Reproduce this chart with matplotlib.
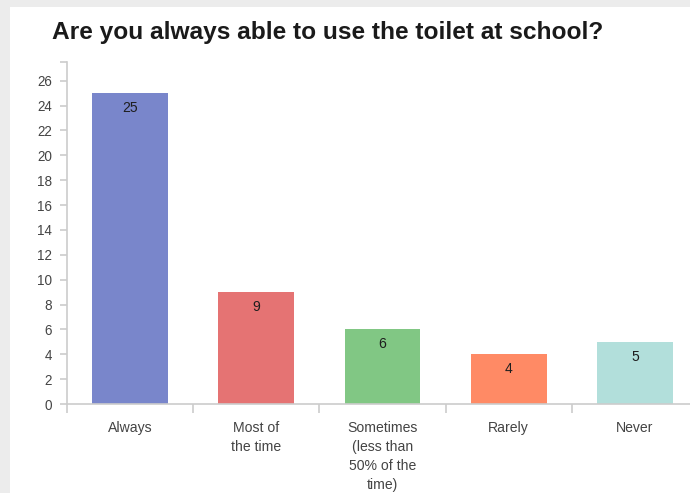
import numpy as np
import matplotlib
matplotlib.use("Agg")
import matplotlib.pyplot as plt
from matplotlib.patches import Rectangle

plt.rcParams['font.family'] = ['Liberation Sans', 'DejaVu Sans']

# survey answers
categories = ["Always", "Most of\nthe time", "Sometimes\n(less than\n50% of the\ntime)",
              "Rarely", "Never"]
counts = [25, 9, 6, 4, 5]
colors = ["#7986CB", "#E57373", "#81C784", "#FF8A65", "#B2DFDB"]
yticks = list(range(0, 27, 2))

W, H, DPI = 690, 493, 100
PX = 72.0 / DPI  # points per pixel

fig = plt.figure(figsize=(W / DPI, H / DPI), dpi=DPI, facecolor="#ececec")

# white card with a thin grey frame on top/left
fig.patches.append(Rectangle((10 / W, 0), 1, (H - 7) / H, transform=fig.transFigure,
                             facecolor="white", edgecolor="none", zorder=-5))

fig.text(52 / W, 1 - 33 / H, "Are you always able to use the toilet at school?",
         fontsize=24.5 * PX, fontweight="bold", color="#1a1a1a", va="center", ha="left")

x0, x1 = 67, 698
y0, y1 = 404, 62
ax = fig.add_axes([x0 / W, (H - y0) / H, (x1 - x0) / W, (y0 - y1) / H])
ax.set_facecolor("none")

n = len(categories)
pos = np.arange(n) + 0.5
ymax = max(counts) * 1.1
ax.bar(pos, counts, width=0.6, color=colors, edgecolor="none", zorder=2)
for p, v in zip(pos, counts):
    ax.annotate(str(v), xy=(p, v), xytext=(0, -15 * PX), textcoords="offset points",
                ha="center", va="center", fontsize=14 * PX, color="#1e1e1e", zorder=3)

ax.set_xlim(0, n)
ax.set_ylim(0, ymax)

for s in ["top", "right"]:
    ax.spines[s].set_visible(False)
for s in ["left", "bottom"]:
    ax.spines[s].set_color("#cccccc")
    ax.spines[s].set_linewidth(1.2)

ax.set_yticks(yticks + [ymax])
ax.set_yticklabels([str(v) for v in yticks] + [""])
ax.tick_params(axis="y", length=7 * PX, width=1.2, color="#cccccc",
               labelsize=13.5 * PX, labelcolor="#444444", pad=8 * PX)

ax.set_xticks(np.arange(n + 1))
ax.set_xticklabels([""] * (n + 1))
ax.set_xticks(pos, minor=True)
ax.set_xticklabels(categories, minor=True, fontsize=14 * PX, color="#444444",
                   linespacing=1.45)
ax.tick_params(axis="x", which="major", length=9 * PX, width=1.2, color="#cccccc")
ax.tick_params(axis="x", which="minor", length=0, pad=17 * PX)

fig.savefig("out.png", dpi=DPI, facecolor=fig.get_facecolor())
